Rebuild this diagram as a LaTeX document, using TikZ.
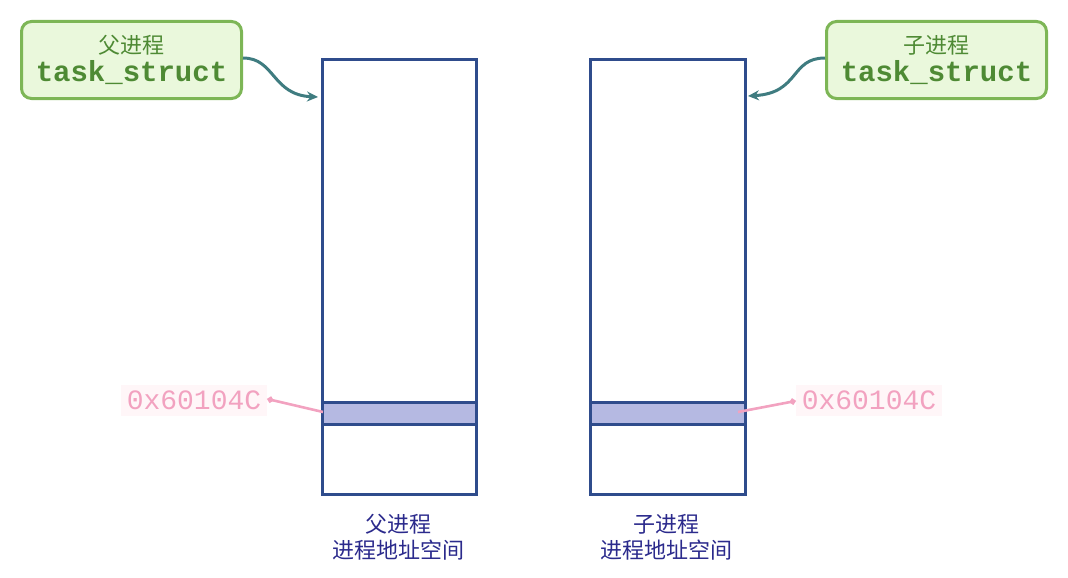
\documentclass[tikz,border=0pt]{standalone}
\usepackage{fontspec}
\setmonofont{Liberation Mono}
\newfontfamily\cjk{Noto Sans CJK SC}
\usetikzlibrary{arrows.meta}
\definecolor{gborder}{HTML}{7DB656}
\definecolor{gfill}{HTML}{EAF8DC}
\definecolor{gtext}{HTML}{4E8A34}
\definecolor{arrowc}{HTML}{3F7C80}
\definecolor{rectc}{HTML}{2F4C8C}
\definecolor{bandc}{HTML}{B5B9E2}
\definecolor{pinkc}{HTML}{F2A2C0}
\definecolor{pinkbg}{HTML}{FFF6F8}
\definecolor{navy}{HTML}{2B2A8C}
\tikzset{
  tsbox/.style={draw=gborder, line width=3pt, fill=gfill, rounded corners=10pt,
    minimum width=220pt, minimum height=77pt, align=center, inner sep=0pt},
  memrect/.style={draw=rectc, line width=3pt},
  bandbox/.style={draw=rectc, line width=3pt, fill=bandc},
  curvearrow/.style={arrowc, line width=3pt, -{Stealth[length=11pt,width=10pt]}},
  pinkarrow/.style={pinkc, line width=2.6pt, -{Circle[length=6pt]}},
  addr/.style={text=pinkc, font=\fontsize{28}{28}\selectfont\ttfamily, fill=pinkbg, inner sep=6pt},
  caplabel/.style={text=navy, font=\fontsize{22}{26}\selectfont\cjk, align=center}
}
\begin{document}
\begin{tikzpicture}[x=1pt,y=-1pt]
\useasboundingbox (0,0) rectangle (1068,578);
% memory rectangles
\node[memrect, minimum width=154pt, minimum height=435pt, inner sep=0pt, anchor=north west] (lrect) at (321,58) {};
\node[memrect, minimum width=155pt, minimum height=435pt, inner sep=0pt, anchor=north west] (rrect) at (589,58) {};
\node[bandbox, minimum width=154pt, minimum height=22pt, inner sep=0pt, anchor=north west] (lband) at (321,401) {};
\node[bandbox, minimum width=155pt, minimum height=22pt, inner sep=0pt, anchor=north west] (rband) at (589,401) {};
% task_struct boxes
\node[tsbox, anchor=north west] (lbox) at (20,20) {{\cjk\fontsize{22}{24}\selectfont\color{gtext}父进程}\\[4pt]{\fontsize{29}{30}\selectfont\ttfamily\bfseries\color{gtext}task\_struct}};
\node[tsbox, anchor=north west] (rbox) at (825,20) {{\cjk\fontsize{22}{24}\selectfont\color{gtext}子进程}\\[4pt]{\fontsize{29}{30}\selectfont\ttfamily\bfseries\color{gtext}task\_struct}};
\coordinate (lend) at (318,97);
\coordinate (rend) at (748,96);
\draw[curvearrow] (lbox.east |- 0,58) .. controls (275,58) and (272,95) .. (lend);
\draw[curvearrow] (rbox.west |- 0,58) .. controls (790,58) and (800,93) .. (rend);
% addresses
\node[addr] (laddr) at (194,400) {0x60104C};
\node[addr] (raddr) at (869,400) {0x60104C};
\coordinate (lsrc) at (323,412);
\coordinate (rsrc) at (738,412);
\draw[pinkarrow] (lsrc) -- (laddr.east |- 0,399);
\draw[pinkarrow] (rsrc) -- (raddr.west |- 0,401);
% captions
\node[caplabel] (lcap) at (398,537) {父进程\\进程地址空间};
\node[caplabel] (rcap) at (666,537) {子进程\\进程地址空间};
\end{tikzpicture}
\end{document}
